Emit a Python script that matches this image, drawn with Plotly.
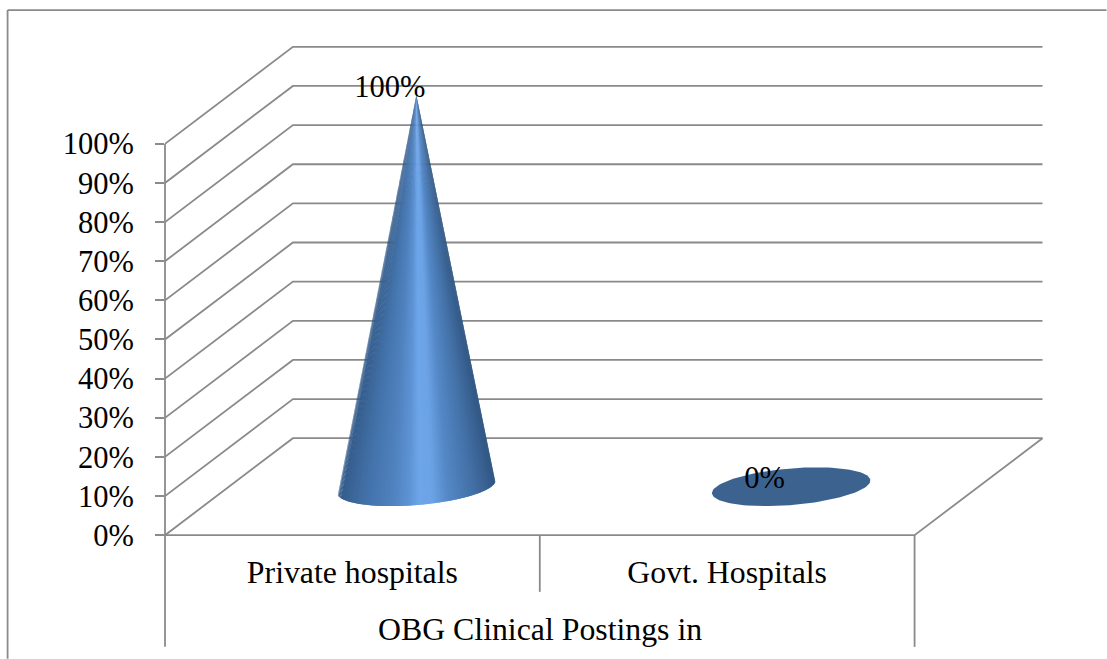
import math
import plotly.graph_objects as go

# Chart content
categories = ["Private hospitals", "Govt. Hospitals"]
values = [100, 0]
value_labels = ["100%", "0%"]
tick_values = [0, 10, 20, 30, 40, 50, 60, 70, 80, 90, 100]
tick_labels = ["0%", "10%", "20%", "30%", "40%", "50%", "60%", "70%", "80%", "90%", "100%"]
group_title = "OBG Clinical Postings in"

# Oblique projection: depth runs from 0 (front) to 1 (back wall)
PX_X = 375
PX_Y = 3.915
DEPTH_X = 128 / PX_X
DEPTH_Y = 97 / PX_Y
CONE_RADIUS = 0.2
CONE_DEPTH = 0.2

# Spare room around the walls so their lines are not cut at the subplot edge
PAD_Y = 2
PAD_X = 0.02

FONT = "Liberation Serif"
LINE = "#8a8a8a"
LINE_W = 1.8

# Shading across the cone, left silhouette to right silhouette
SHADES = [
    (0.00, (48, 88, 135)), (0.07, (58, 100, 150)), (0.20, (68, 116, 172)),
    (0.35, (80, 130, 190)), (0.45, (92, 146, 212)), (0.52, (110, 166, 234)),
    (0.60, (108, 163, 230)), (0.70, (84, 136, 198)), (0.85, (68, 114, 168)),
    (0.95, (56, 96, 144)), (1.00, (48, 86, 130)),
]
CAP_COLOR = "#3c6390"


def project(cat, value, depth):
    return cat + depth * DEPTH_X, value + depth * DEPTH_Y


def shade(f):
    for (f0, c0), (f1, c1) in zip(SHADES, SHADES[1:]):
        if f <= f1:
            t = (f - f0) / (f1 - f0)
            r, g, b = [round(a + (b_ - a) * t) for a, b_ in zip(c0, c1)]
            return f"rgb({r},{g},{b})"
    return "rgb(48,86,130)"


def rim(cat, theta):
    """Point on the base circle of a cone at angle theta."""
    x, y = project(cat, 0, 0.5 + CONE_DEPTH * math.sin(theta))
    return x + CONE_RADIUS * math.cos(theta), y


fig = go.Figure()


def add_line(xs, ys, width=LINE_W):
    fig.add_trace(go.Scatter(x=xs, y=ys, mode="lines", cliponaxis=False,
                             line=dict(color=LINE, width=width), hoverinfo="skip"))


# Side wall and back wall gridlines
for v in tick_values:
    xs, ys = zip(project(0, v, 0), project(0, v, 1), project(2, v, 1))
    add_line(list(xs), list(ys))

# Floor outline
xs, ys = zip(project(0, 0, 0), project(2, 0, 0), project(2, 0, 1))
add_line(list(xs), list(ys))

# Silhouette angle: where the rim reaches its horizontal extreme
sil = math.atan2(CONE_DEPTH * DEPTH_X, CONE_RADIUS)
STRIPS = 90

for i, (name, v) in enumerate(zip(categories, values)):
    cat = i + 0.5
    apex = project(cat, v, 0.5)
    if v > 0:
        left = rim(cat, math.pi + sil)[0]
        right = rim(cat, sil)[0]
        for s in range(STRIPS):
            # Each wedge reaches over its neighbour to hide seams
            a0 = math.pi + sil + (math.pi * s / STRIPS)
            a1 = math.pi + sil + (math.pi * min(s + 2, STRIPS) / STRIPS)
            steps = 5
            pts = [rim(cat, a0 + (a1 - a0) * k / steps) for k in range(steps + 1)]
            mid = rim(cat, a0 + math.pi / STRIPS / 2)[0]
            f = (mid - left) / (right - left)
            fig.add_trace(go.Scatter(
                x=[apex[0]] + [p[0] for p in pts] + [apex[0]],
                y=[apex[1]] + [p[1] for p in pts] + [apex[1]],
                mode="lines", fill="toself", fillcolor=shade(f),
                line=dict(width=0), hoverinfo="skip", cliponaxis=False,
            ))
    else:
        pts = [rim(cat, 2 * math.pi * k / 120) for k in range(121)]
        fig.add_trace(go.Scatter(
            x=[p[0] for p in pts], y=[p[1] for p in pts],
            mode="lines", fill="toself", fillcolor=CAP_COLOR,
            line=dict(width=0), hoverinfo="skip", cliponaxis=False,
        ))

# Value labels sit on top of the marks
label_x, label_y = [], []
for i, v in enumerate(values):
    x, y = project(i + 0.5, v, 0.293)
    label_x.append(x)
    label_y.append(y + 26.5 / PX_Y)
fig.add_trace(go.Scatter(
    x=label_x, y=label_y, text=value_labels, mode="text", textposition="middle center",
    textfont=dict(family=FONT, size=30.5, color="#000000"), cliponaxis=False, hoverinfo="skip",
))

floor_px = 535.3
x_max = 2 + DEPTH_X + PAD_X
plot_l = 165
plot_r = plot_l + x_max * PX_X
plot_b = floor_px + PAD_Y * PX_Y
plot_t = floor_px - (100 + DEPTH_Y + PAD_Y) * PX_Y
paper_x = lambda px: (px - plot_l) / (plot_r - plot_l)
paper_y = lambda py: (plot_b - py) / (plot_b - plot_t)

line_style = dict(color=LINE, width=LINE_W)

# Chart area border: top and left edges only
fig.add_shape(type="line", xref="paper", yref="paper", x0=paper_x(7.5), x1=paper_x(1107),
              y0=paper_y(10), y1=paper_y(10), line=line_style)
fig.add_shape(type="line", xref="paper", yref="paper", x0=paper_x(7.5), x1=paper_x(7.5),
              y0=paper_y(10), y1=paper_y(659), line=line_style)

# Value axis line continuing down into the category band, and the band dividers
fig.add_shape(type="line", xref="paper", yref="paper", x0=0, x1=0,
              y0=paper_y(floor_px - tick_values[-1] * PX_Y), y1=paper_y(647), line=line_style)
fig.add_shape(type="line", xref="x", yref="paper", x0=1, x1=1,
              y0=paper_y(floor_px), y1=paper_y(592), line=line_style)
fig.add_shape(type="line", xref="x", yref="paper", x0=2, x1=2,
              y0=paper_y(floor_px), y1=paper_y(647), line=line_style)

fig.add_annotation(x=1, y=paper_y(630), xref="x", yref="paper", text=group_title, showarrow=False,
                   font=dict(family=FONT, size=31.8, color="#000000"),
                   xanchor="center", yanchor="middle")

fig.update_layout(
    width=1107, height=659, autosize=False, showlegend=False,
    paper_bgcolor="#ffffff", plot_bgcolor="#ffffff",
    margin=dict(l=plot_l, r=1107 - plot_r, t=plot_t, b=659 - plot_b, pad=0),
    xaxis=dict(
        range=[0, x_max], tickmode="array", tickvals=[0.5, 1.5],
        ticktext=categories, showgrid=False, zeroline=False, showline=False, ticks="",
        tickfont=dict(family=FONT, size=31.8, color="#000000"), ticklabelstandoff=7,
        fixedrange=True,
    ),
    yaxis=dict(
        range=[-PAD_Y, 100 + DEPTH_Y + PAD_Y], tickmode="array", tickvals=tick_values,
        ticktext=tick_labels, showgrid=False, zeroline=False, showline=False,
        ticks="outside", ticklen=9, tickwidth=LINE_W, tickcolor=LINE, ticklabelstandoff=15,
        tickfont=dict(family=FONT, size=30.5, color="#000000"), fixedrange=True,
    ),
)

fig.write_html("out.html", config={"displayModeBar": False})
